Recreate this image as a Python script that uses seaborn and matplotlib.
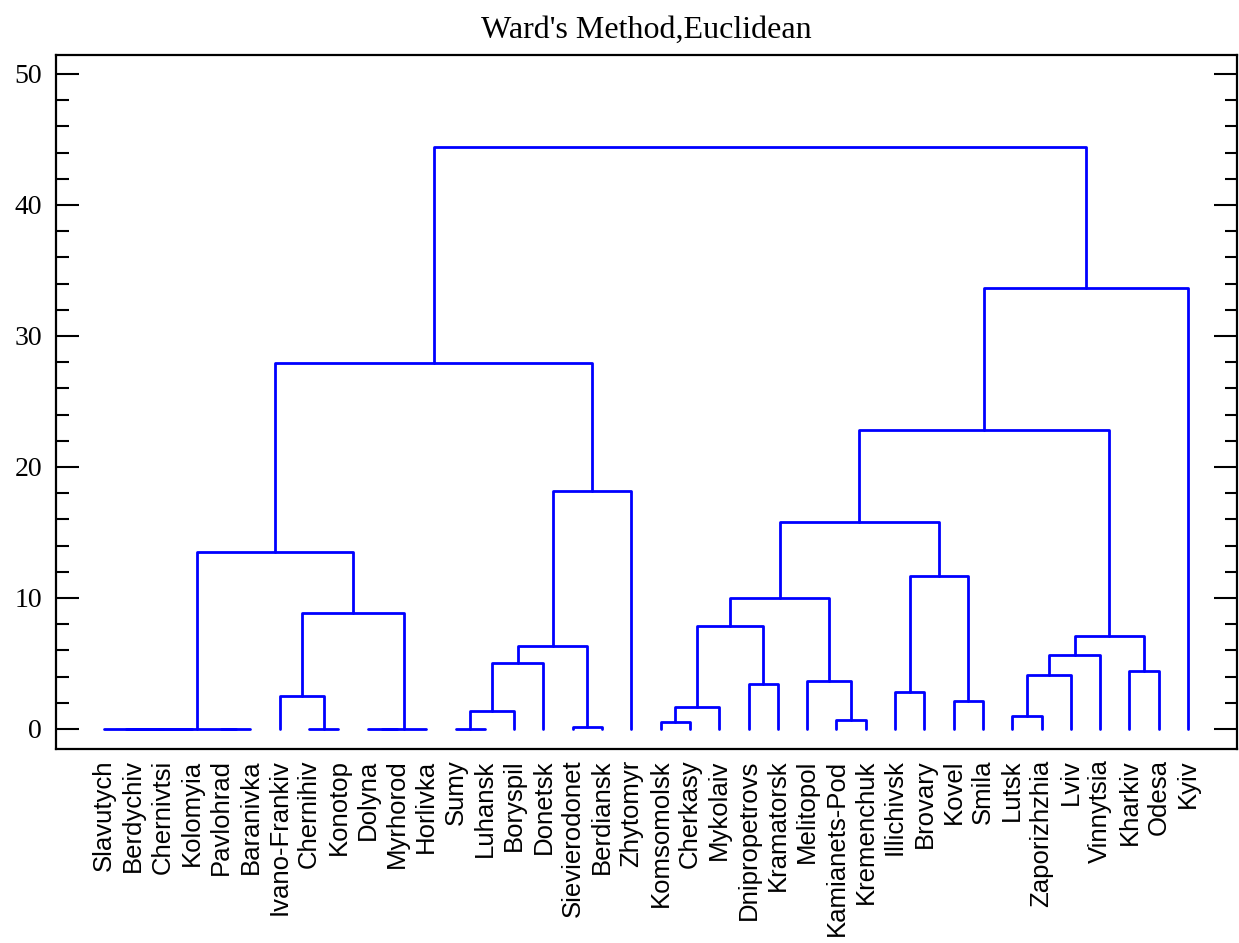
import numpy as np
import pandas as pd
import matplotlib
matplotlib.use("Agg")
import matplotlib.pyplot as plt
import seaborn as sns
from matplotlib.ticker import MultipleLocator

# leaf order, left to right
cities = ['Slavutych', 'Berdychiv', 'Chernivtsi', 'Kolomyia', 'Pavlohrad',
          'Baranivka', 'Ivano-Frankiv', 'Chernihiv', 'Konotop', 'Dolyna',
          'Myrhorod', 'Horlivka', 'Sumy', 'Luhansk', 'Boryspil', 'Donetsk',
          'Sievierodonet', 'Berdiansk', 'Zhytomyr', 'Komsomolsk', 'Cherkasy',
          'Mykolaiv', 'Dnipropetrovs', 'Kramatorsk', 'Melitopol',
          'Kamianets-Pod', 'Kremenchuk', 'Illichivsk', 'Brovary', 'Kovel',
          'Smila', 'Lutsk', 'Zaporizhzhia', 'Lviv', 'Vinnytsia', 'Kharkiv',
          'Odesa', 'Kyiv']

# merges: ids < 38 are leaves, merge k makes cluster 38 + k
link_a = [1, 0, 39, 4, 40, 7, 6, 9, 45, 44, 42, 12, 49, 50, 16, 51, 53, 48,
          19, 56, 22, 57, 25, 24, 59, 27, 29, 63, 62, 31, 67, 68, 35, 69, 66,
          72, 55]
link_b = [2, 38, 3, 5, 41, 8, 43, 10, 11, 46, 47, 13, 14, 15, 17, 52, 18, 54,
          20, 21, 23, 58, 26, 60, 61, 28, 30, 64, 65, 32, 33, 34, 36, 70, 71,
          37, 73]
link_h = [0, 0, 0, 0, 0, 0, 2.55, 0, 0, 8.85, 13.5, 0, 1.35, 5.0, 0.18, 6.35,
          18.15, 27.9, 0.53, 1.7, 3.4, 7.85, 0.65, 3.7, 10.0, 2.83, 2.15, 11.7,
          15.8, 1.0, 4.15, 5.65, 4.45, 7.13, 22.85, 33.7, 44.4]

n = len(cities)
pos = {i: float(i) for i in range(n)}
hgt = {i: 0.0 for i in range(n)}
rows = []
for k, (a, b, h) in enumerate(zip(link_a, link_b, link_h)):
    xa, xb = pos[a], pos[b]
    pts = [(xa, hgt[a]), (xa, h), (xb, h), (xb, hgt[b])]
    for j, (x, y) in enumerate(pts):
        rows.append(dict(seg=k, order=j, x=x, y=y))
    pos[n + k] = (xa + xb) / 2
    hgt[n + k] = h
segs = pd.DataFrame(rows)

sns.set_style("ticks")
plt.rcParams.update({"text.color": "black", "xtick.color": "black",
                     "ytick.color": "black", "axes.labelcolor": "black"})
fig, ax = plt.subplots(figsize=(12.39, 9.43), dpi=100)
fig.subplots_adjust(left=0.0452, right=0.9984, bottom=0.2057, top=0.9417)

sns.lineplot(data=segs, x="x", y="y", units="seg", estimator=None, sort=False,
             color="#0000ff", linewidth=2.0, legend=False, ax=ax)

ax.set_xlim(-1.638, 38.67)
ax.set_ylim(-1.53, 51.45)
ax.set_xticks(range(n))
ax.set_xticklabels(cities, rotation=90, family="Liberation Sans", fontsize=18.5,
                   color="black")
ax.tick_params(axis="x", length=0, pad=7.5)

ax.set_yticks(range(0, 51, 10))
ax.yaxis.set_minor_locator(MultipleLocator(2))
ax.tick_params(axis="y", which="both", direction="in", left=True, right=True,
               width=1.5, labelsize=20, pad=10, color="black",
               labelcolor="black")
ax.tick_params(axis="y", which="major", length=16.5)
ax.tick_params(axis="y", which="minor", length=9)
for lbl in ax.get_yticklabels():
    lbl.set_family("Liberation Serif")

ax.set_xlabel("")
ax.set_ylabel("")
ax.set_title("Ward's Method,Euclidean", family="Liberation Serif",
             fontsize=23, pad=12, color="black")
for s in ax.spines.values():
    s.set_linewidth(1.6)
    s.set_color("black")

fig.savefig("out.png", dpi=100)
